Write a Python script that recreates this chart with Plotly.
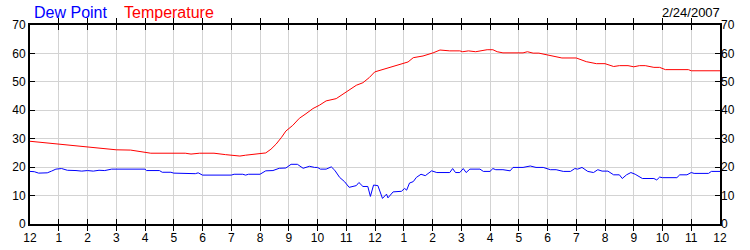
import plotly.graph_objects as go

# Hours since midnight (0..24)
temp_hours = [0, 0.3, 0.6, 1.0, 1.3, 1.6, 2.0, 2.2, 2.6, 3.0, 3.5, 3.85, 4.2, 5.4, 5.6, 5.9, 6.4, 6.8,
              7.1, 7.3, 7.5, 7.7, 8.0, 8.2, 8.38, 8.56, 8.75, 8.9, 9.14, 9.37, 9.6, 9.84, 10.07, 10.3,
              10.65, 11.0, 11.35, 11.58, 11.8, 11.99, 12.28, 12.63, 12.98, 13.15, 13.33, 13.67, 14.02,
              14.26, 14.6, 14.95, 15.05, 15.25, 15.5, 15.9, 16.1, 16.25, 16.45, 17.15, 17.3, 17.5, 17.7,
              17.95, 18.3, 18.5, 19.0, 19.35, 19.7, 20.0, 20.3, 20.5, 20.8, 21.0, 21.2, 21.4, 21.7, 21.9,
              22.1, 22.9, 23.0, 24.0]
temperature = [29.1, 28.8, 28.4, 28.1, 27.9, 27.4, 27.1, 26.8, 26.5, 26.1, 26.0, 25.4, 24.9, 24.9, 24.6,
               24.9, 24.9, 24.4, 24.2, 23.9, 24.2, 24.4, 24.6, 25.0, 26.3, 28.1, 30.5, 32.7, 34.7, 37.2,
               38.8, 40.6, 41.8, 43.3, 44.1, 46.4, 48.8, 49.7, 51.5, 53.5, 54.4, 55.3, 56.4, 57.0, 58.5,
               59.1, 60.2, 61.2, 60.9, 60.9, 60.6, 60.9, 60.6, 61.3, 61.3, 60.6, 60.2, 60.2, 60.6, 60.1,
               60.1, 59.5, 58.8, 58.4, 58.4, 57.1, 56.4, 56.4, 55.4, 55.7, 55.7, 55.3, 55.7, 55.7, 55.1,
               55.1, 54.3, 54.3, 53.9, 53.9]

dew_hours = [0, 0.15, 0.3, 0.6, 0.75, 0.9, 1.1, 1.3, 1.6, 1.8, 2.0, 2.2, 2.4, 2.6, 2.84, 4.0, 4.05, 4.5,
             4.6, 4.9, 5.0, 5.6, 5.75, 5.85, 6.0, 7.0, 7.1, 7.4, 7.5, 7.6, 8.0, 8.2, 8.45, 8.67, 8.9,
             9.08, 9.3, 9.5, 9.72, 9.9, 10.0, 10.1, 10.3, 10.48, 10.6, 10.77, 10.94, 11.1, 11.35, 11.44,
             11.58, 11.75, 11.84, 11.95, 12.1, 12.26, 12.4, 12.45, 12.63, 12.92, 13.03, 13.1, 13.2,
             13.33, 13.44, 13.6, 13.75, 13.97, 14.15, 14.6, 14.7, 14.8, 14.95, 15.07, 15.17, 15.3,
             15.65, 15.77, 16.0, 16.1, 16.2, 16.45, 16.7, 16.8, 17.15, 17.4, 17.6, 17.85, 18.1, 18.3,
             18.55, 18.8, 18.95, 19.05, 19.2, 19.4, 19.6, 19.75, 19.9, 20.1, 20.3, 20.5, 20.6, 20.75,
             20.9, 21.05, 21.3, 21.7, 21.8, 21.9, 22.0, 22.5, 22.6, 22.85, 23.0, 23.1, 23.6, 23.7, 24.0]
dew_point = [18.5, 18.4, 17.9, 18.0, 18.6, 19.3, 19.5, 18.9, 18.8, 18.6, 18.8, 18.6, 18.9, 18.8, 19.3,
             19.3, 18.8, 18.8, 18.2, 18.2, 17.9, 17.9, 17.7, 18.0, 17.2, 17.2, 17.5, 17.5, 17.2, 17.5,
             17.5, 18.7, 18.8, 19.6, 19.7, 21.0, 21.0, 19.6, 20.3, 19.9, 19.9, 19.3, 19.3, 20.1, 18.9,
             16.4, 14.9, 12.9, 13.5, 14.6, 13.2, 13.2, 9.7, 13.7, 13.5, 9.0, 10.5, 9.2, 11.3, 11.5,
             12.5, 11.9, 14.4, 14.9, 16.4, 17.5, 17.0, 18.7, 18.1, 18.1, 19.5, 18.1, 18.1, 19.5, 18.1,
             19.3, 19.3, 18.5, 18.5, 19.5, 19.1, 19.1, 18.7, 19.9, 19.9, 20.4, 19.9, 19.9, 19.1, 19.1,
             18.5, 18.5, 19.5, 19.3, 19.9, 18.5, 18.1, 19.1, 18.6, 18.6, 17.3, 17.3, 16.0, 17.3, 18.1,
             17.5, 16.0, 16.0, 15.5, 16.5, 16.3, 16.3, 17.3, 17.3, 18.1, 17.8, 17.8, 18.5, 18.5]

x_tick_vals = list(range(25))
x_tick_text = ["12", "1", "2", "3", "4", "5", "6", "7", "8", "9", "10", "11",
               "12", "1", "2", "3", "4", "5", "6", "7", "8", "9", "10", "11", "12"]
y_tick_vals = [0, 10, 20, 30, 40, 50, 60, 70]
date_label = "2/24/2007"

FONT = "Liberation Sans, Arial, sans-serif"

fig = go.Figure()
fig.add_trace(go.Scatter(x=temp_hours, y=temperature, mode="lines",
                         line=dict(color="#ff0000", width=1), name="Temperature"))
fig.add_trace(go.Scatter(x=dew_hours, y=dew_point, mode="lines",
                         line=dict(color="#0000ff", width=1), name="Dew Point"))
# invisible trace to activate the right axis
fig.add_trace(go.Scatter(x=[0], y=[0], yaxis="y2", mode="markers",
                         marker=dict(opacity=0), showlegend=False, hoverinfo="skip"))

fig.update_layout(
    width=750, height=250,
    margin=dict(l=30, r=30, t=25, b=26),
    paper_bgcolor="white", plot_bgcolor="white",
    showlegend=False,
    font=dict(family=FONT, size=12, color="black"),
    xaxis=dict(range=[0, 24], tickmode="array", tickvals=x_tick_vals, ticktext=x_tick_text,
               showgrid=True, gridcolor="#d3d3d3", gridwidth=1, zeroline=False,
               showline=True, linecolor="black", linewidth=2, mirror="allticks",
               ticks="inside", ticklen=5, tickcolor="black", tickwidth=1,
               ticklabelstandoff=2,
               tickfont=dict(size=12), fixedrange=True, automargin=False),
    yaxis=dict(range=[0, 70], tickmode="array", tickvals=y_tick_vals,
               showgrid=True, gridcolor="#d3d3d3", gridwidth=1, zeroline=False,
               showline=True, linecolor="black", linewidth=2, mirror="allticks",
               ticks="inside", ticklen=5, tickcolor="black", tickwidth=1,
               tickfont=dict(size=12), fixedrange=True, automargin=False),
    yaxis2=dict(range=[0, 70], overlaying="y", side="right", tickmode="array",
                tickvals=y_tick_vals, showgrid=False, zeroline=False, showline=False,
                ticks="", tickfont=dict(size=12), fixedrange=True, automargin=False),
    annotations=[
        dict(text="Dew Point", xref="paper", yref="paper", x=0, y=1, xanchor="left",
             yanchor="bottom", xshift=2, yshift=2, showarrow=False,
             font=dict(family=FONT, size=16, color="#0000ff")),
        dict(text="Temperature", xref="paper", yref="paper", x=0, y=1, xanchor="left",
             yanchor="bottom", xshift=92, yshift=2, showarrow=False,
             font=dict(family=FONT, size=16, color="#ff0000")),
        dict(text=date_label, xref="paper", yref="paper", x=1, y=1, xanchor="right",
             yanchor="bottom", xshift=2, yshift=3, showarrow=False,
             font=dict(family=FONT, size=13, color="black")),
    ],
)

fig.write_html("out.html")
